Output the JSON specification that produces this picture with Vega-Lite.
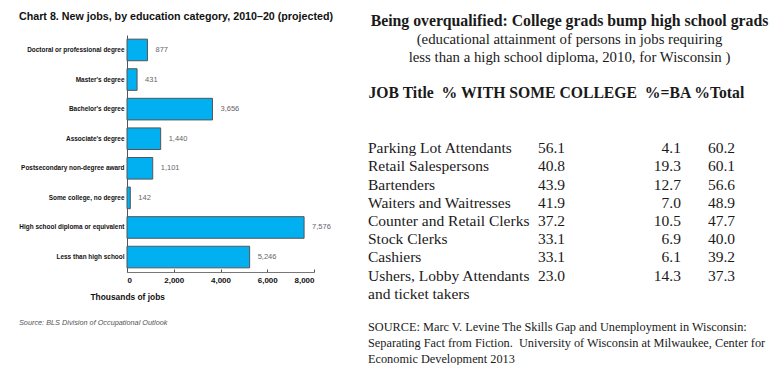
{
  "$schema": "https://vega.github.io/schema/vega-lite/v6.json",
  "background": "white",
  "padding": {"left": 18, "top": 0, "right": 0, "bottom": 0},
  "config": {"view": {"stroke": null}},
  "spacing": 35,
  "hconcat": [
    {
      "spacing": 13,
      "vconcat": [
        {
          "width": 1,
          "height": 0,
          "title": {
            "text": "Chart 8. New jobs, by education category, 2010–20 (projected)",
            "orient": "bottom",
            "anchor": "start",
            "frame": "group",
            "dx": -108,
            "offset": -8,
            "font": "Liberation Sans",
            "fontSize": 10.7,
            "fontWeight": "bold",
            "color": "#111"
          },
          "data": {"values": []},
          "mark": "text"
        },
        {
          "width": 187,
          "height": 237,
          "data": {
            "values": [
              {"category": "Doctoral or professional degree", "jobs": 877},
              {"category": "Master's degree", "jobs": 431},
              {"category": "Bachelor's degree", "jobs": 3656},
              {"category": "Associate's degree", "jobs": 1440},
              {"category": "Postsecondary non-degree award", "jobs": 1101},
              {"category": "Some college, no degree", "jobs": 142},
              {"category": "High school diploma or equivalent", "jobs": 7576},
              {"category": "Less than high school", "jobs": 5246}
            ]
          },
          "encoding": {
            "y": {
              "field": "category",
              "type": "nominal",
              "sort": null,
              "scale": {"paddingInner": 0.27, "paddingOuter": 0.14},
              "axis": {
                "title": null,
                "ticks": false,
                "labelFont": "Liberation Sans",
                "labelFontWeight": "bold",
                "labelFontSize": 6.45,
                "labelColor": "#111",
                "labelPadding": 3,
                "domainColor": "#555",
                "labelLimit": 200
              }
            },
            "x": {
              "field": "jobs",
              "type": "quantitative",
              "scale": {"domain": [0, 8000]},
              "axis": {
                "values": [0, 2000, 4000, 6000, 8000],
                "format": ",d",
                "grid": false,
                "tickSize": -3,
                "tickColor": "#555",
                "domainColor": "#777",
                "labelFont": "Liberation Sans",
                "labelFontWeight": "bold",
                "labelFontSize": 8,
                "labelColor": "#111",
                "labelPadding": 7,
                "title": "Thousands of jobs",
                "titleFont": "Liberation Sans",
                "titleFontWeight": "bold",
                "titleFontSize": 8.4,
                "titleColor": "#111",
                "titleAnchor": "start",
                "titleX": -37,
                "titlePadding": 8
              }
            }
          },
          "layer": [
            {"mark": {"type": "bar", "fill": "#00B0F0", "stroke": "#555", "strokeWidth": 1}},
            {
              "mark": {"type": "text", "align": "left", "dx": 8, "font": "Liberation Sans", "fontSize": 7.5, "color": "#666"},
              "encoding": {"text": {"field": "jobs", "type": "quantitative", "format": ","}}
            }
          ]
        },
        {
          "width": 1,
          "height": 0,
          "title": {
            "text": "Source: BLS Division of Occupational Outlook",
            "orient": "bottom",
            "anchor": "start",
            "frame": "group",
            "dx": -108,
            "offset": -15,
            "font": "Liberation Sans",
            "fontSize": 7.3,
            "fontStyle": "italic",
            "fontWeight": "normal",
            "color": "#555"
          },
          "data": {"values": []},
          "mark": "text"
        }
      ]
    },
    {
      "spacing": 18,
      "vconcat": [
        {
          "width": 403,
          "height": 0,
          "title": {
            "text": "Being overqualified: College grads bump high school grads",
            "subtitle": ["(educational attainment of persons in jobs requiring", "less than a high school diploma, 2010, for Wisconsin )"],
            "orient": "bottom",
            "anchor": "middle",
            "frame": "group",
            "font": "Liberation Serif",
            "fontSize": 15.8,
            "fontWeight": "bold",
            "color": "#1a1a1a",
            "subtitleFont": "Liberation Serif",
            "subtitleFontSize": 14.8,
            "subtitleColor": "#1a1a1a",
            "subtitleLineHeight": 18.5,
            "subtitlePadding": 2,
            "offset": -6
          },
          "data": {"values": []},
          "mark": "text"
        },
        {
          "width": 403,
          "height": 145.6,
          "data": {
            "values": [
              {"job": "Parking Lot Attendants", "some_college": 56.1, "ba": 4.1, "total": 60.2},
              {"job": "Retail Salespersons", "some_college": 40.8, "ba": 19.3, "total": 60.1},
              {"job": "Bartenders", "some_college": 43.9, "ba": 12.7, "total": 56.6},
              {"job": "Waiters and Waitresses", "some_college": 41.9, "ba": 7.0, "total": 48.9},
              {"job": "Counter and Retail Clerks", "some_college": 37.2, "ba": 10.5, "total": 47.7},
              {"job": "Stock Clerks", "some_college": 33.1, "ba": 6.9, "total": 40.0},
              {"job": "Cashiers", "some_college": 33.1, "ba": 6.1, "total": 39.2},
              {"job": "Ushers, Lobby Attendants\nand ticket takers", "some_college": 23.0, "ba": 14.3, "total": 37.3}
            ]
          },
          "encoding": {
            "y": {"field": "job", "type": "nominal", "sort": null, "scale": {"type": "point"}, "axis": null}
          },
          "layer": [
            {
              "mark": {"type": "text", "align": "left", "baseline": "alphabetic", "dy": 5, "lineBreak": "\n", "lineHeight": 18.2, "font": "Liberation Serif", "fontSize": 15.5, "color": "#1a1a1a"},
              "encoding": {
                "x": {
                  "datum": "job",
                  "type": "nominal",
                  "scale": {"type": "point", "padding": 0, "domain": ["job", "some_college", "ba", "total"]},
                  "axis": {
                    "orient": "top",
                    "labels": false,
                    "ticks": false,
                    "domain": false,
                    "title": "JOB Title\u00a0 % WITH SOME COLLEGE\u00a0 %=BA %Total",
                    "titleFont": "Liberation Serif",
                    "titleFontSize": 15.7,
                    "titleFontWeight": "bold",
                    "titleColor": "#1a1a1a",
                    "titleAnchor": "start",
                    "titlePadding": 39
                  }
                },
                "text": {"field": "job"}
              }
            },
            {
              "mark": {"type": "text", "align": "right", "baseline": "alphabetic", "dy": 5, "dx": 62.7, "font": "Liberation Serif", "fontSize": 15.5, "color": "#1a1a1a"},
              "encoding": {
                "x": {"datum": "some_college", "type": "nominal"},
                "text": {"field": "some_college", "type": "quantitative", "format": ".1f"}
              }
            },
            {
              "mark": {"type": "text", "align": "right", "baseline": "alphabetic", "dy": 5, "dx": 44.3, "font": "Liberation Serif", "fontSize": 15.5, "color": "#1a1a1a"},
              "encoding": {
                "x": {"datum": "ba", "type": "nominal"},
                "text": {"field": "ba", "type": "quantitative", "format": ".1f"}
              }
            },
            {
              "mark": {"type": "text", "align": "right", "baseline": "alphabetic", "dy": 5, "dx": -36, "font": "Liberation Serif", "fontSize": 15.5, "color": "#1a1a1a"},
              "encoding": {
                "x": {"datum": "total", "type": "nominal"},
                "text": {"field": "total", "type": "quantitative", "format": ".1f"}
              }
            }
          ]
        },
        {
          "width": 403,
          "height": 0,
          "title": {
            "text": ["SOURCE: Marc V. Levine The Skills Gap and Unemployment in Wisconsin:", "Separating Fact from Fiction.\u00a0 University of Wisconsin at Milwaukee, Center for", "Economic Development 2013"],
            "orient": "bottom",
            "anchor": "start",
            "frame": "group",
            "font": "Liberation Serif",
            "fontSize": 12.3,
            "fontWeight": "normal",
            "lineHeight": 16,
            "offset": -22,
            "color": "#1a1a1a"
          },
          "data": {"values": []},
          "mark": "text"
        }
      ]
    }
  ]
}
